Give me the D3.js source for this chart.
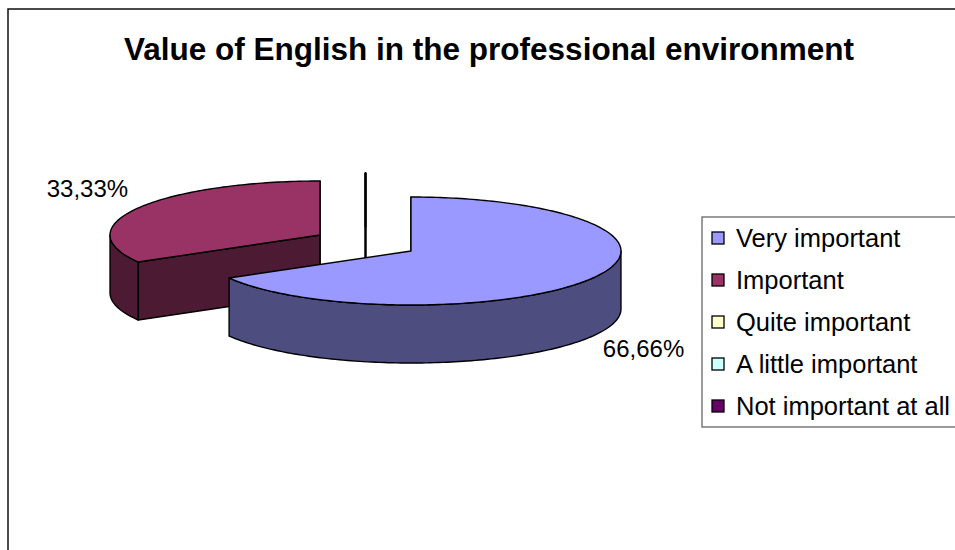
<!DOCTYPE html>
<html>
<head>
<meta charset="utf-8">
<script src="https://cdn.jsdelivr.net/npm/d3@7"></script>
<style>
  html, body { margin: 0; padding: 0; background: #fff; }
  svg { display: block; font-family: "Liberation Sans", Arial, sans-serif; }
</style>
</head>
<body>
<svg id="chart" width="955" height="550"></svg>
<script>
// Survey answers and their shares (percent)
const categories = ["Very important", "Important", "Quite important", "A little important", "Not important at all"];
const values = [66.66, 33.33, 0, 0, 0];
const topColors = ["#9999FF", "#993366", "#FFFFCC", "#CCFFFF", "#660066"];
const titleText = "Value of English in the professional environment";

const W = 955, H = 550;
const svg = d3.select("#chart");

// Chart-area frame (runs off the right and bottom edges)
svg.append("rect")
  .attr("x", 8).attr("y", 9)
  .attr("width", W + 20).attr("height", H + 20)
  .attr("fill", "#fff").attr("stroke", "#111").attr("stroke-width", 1.5);

svg.append("text")
  .attr("x", 489).attr("y", 60)
  .attr("text-anchor", "middle")
  .attr("font-weight", "bold")
  .attr("font-size", 31.5)
  .attr("fill", "#000")
  .text(titleText);

// ---- 3D pie geometry ----
const cx = 365.5, cy = 243;      // centre of the un-exploded pie
const rx = 210, ry = 54;         // ellipse radii of the top face
const depth = 58;                // thickness of the disc
const explode = 0.25 * rx;       // explosion distance
const explodeK = 0.305;          // vertical foreshortening of the explosion

const pie = d3.pie().sort(null).value(d => d).startAngle(0).endAngle(2 * Math.PI);
const arcs = pie(values).map((a, i) => {
  const mid = (a.startAngle + a.endAngle) / 2;
  return {
    ...a, i, mid,
    ox: cx + explode * Math.sin(mid),
    oy: cy - explode * explodeK * Math.cos(mid)
  };
});

const rim = (s, t, z) => [s.ox + rx * Math.sin(t), s.oy - ry * Math.cos(t) + z];
const sample = (t0, t1) => {
  const n = Math.max(2, Math.ceil(Math.abs(t1 - t0) / 0.02));
  return d3.range(n + 1).map(k => t0 + (t1 - t0) * k / n);
};
const line = d3.line();
const shade = c => { const r = d3.rgb(c); return d3.rgb(r.r * 0.5, r.g * 0.5, r.b * 0.5).formatHex(); };

const pieG = svg.append("g");
// paint back slices first
const order = arcs.slice().sort((a, b) => Math.cos(b.mid) - Math.cos(a.mid));

order.forEach(s => {
  const g = pieG.append("g");
  const side = shade(topColors[s.i]);
  const top = topColors[s.i];
  const c0 = [s.ox, s.oy], c1 = [s.ox, s.oy + depth];

  // cut faces (radial walls) that face the viewer
  [[s.startAngle, s.startAngle - Math.PI / 2], [s.endAngle, s.endAngle + Math.PI / 2]].forEach(([t, nrm]) => {
    if (Math.cos(nrm) < 1e-9) {
      g.append("path")
        .attr("d", line([c0, rim(s, t, 0), rim(s, t, depth), c1]) + "Z")
        .attr("fill", side).attr("stroke", "#000").attr("stroke-width", 1.4)
        .attr("stroke-linejoin", "round");
    }
  });

  // outer wall on the front half
  const a0 = Math.max(s.startAngle, Math.PI / 2), a1 = Math.min(s.endAngle, 3 * Math.PI / 2);
  if (a1 > a0) {
    const ts = sample(a0, a1);
    const pts = ts.map(t => rim(s, t, 0)).concat(ts.slice().reverse().map(t => rim(s, t, depth)));
    g.append("path")
      .attr("d", line(pts) + "Z")
      .attr("fill", side).attr("stroke", "#000").attr("stroke-width", 1.4)
      .attr("stroke-linejoin", "round");
  }

  // top face
  const topPts = [c0].concat(sample(s.startAngle, s.endAngle).map(t => rim(s, t, 0)));
  g.append("path")
    .attr("d", line(topPts) + "Z")
    .attr("fill", top).attr("stroke", "#000").attr("stroke-width", 1.4)
    .attr("stroke-linejoin", "round");
});

// percentage labels
const fmt = v => d3.format(".2f")(v).replace(".", ",") + "%";
arcs.filter(s => s.value > 0).forEach(s => {
  const p = rim(s, s.mid, 0);
  const front = Math.cos(s.mid) < 0;
  const right = Math.sin(s.mid) > 0;
  svg.append("text")
    .attr("x", right ? p[0] + 10 : p[0] - 10)
    .attr("y", front ? p[1] + depth + 21 : p[1] - 11)
    .attr("text-anchor", right ? "start" : "end")
    .attr("font-size", 24)
    .attr("fill", "#000")
    .text(fmt(s.value));
});

// ---- legend ----
const legX = 702;
const legY = d3.scaleBand().domain(categories).range([217, 427]);
svg.append("rect")
  .attr("x", legX).attr("y", 217)
  .attr("width", 300).attr("height", 210)
  .attr("fill", "#fff").attr("stroke", "#666").attr("stroke-width", 1.3);

const items = svg.append("g").selectAll("g").data(categories).join("g")
  .attr("transform", d => `translate(0,${legY(d) + legY.bandwidth() / 2})`);
items.append("rect")
  .attr("x", legX + 10).attr("y", -6)
  .attr("width", 12).attr("height", 12)
  .attr("fill", (d, i) => topColors[i])
  .attr("stroke", "#000").attr("stroke-width", 1.3);
items.append("text")
  .attr("x", legX + 34).attr("y", 8.5)
  .attr("font-size", 25.5)
  .attr("fill", "#000")
  .text(d => d);
</script>
</body>
</html>
